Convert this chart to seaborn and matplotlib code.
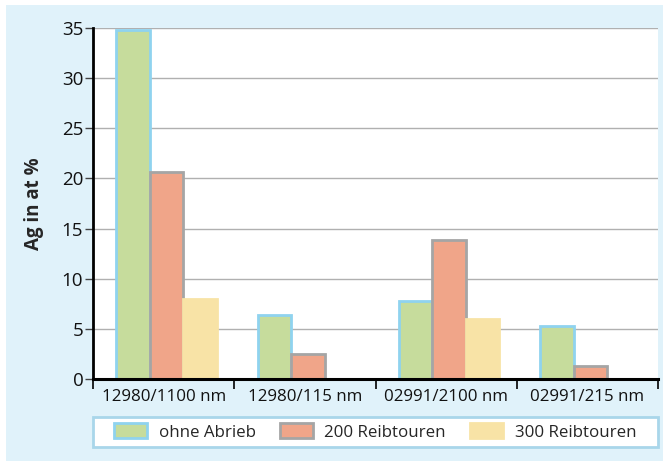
import matplotlib
matplotlib.use("Agg")
import matplotlib.pyplot as plt
import matplotlib.transforms as mtransforms
import seaborn as sns
import pandas as pd
from matplotlib.patches import Rectangle, Patch

categories = ["12980/1100 nm", "12980/115 nm", "02991/2100 nm", "02991/215 nm"]
series_names = ["ohne Abrieb", "200 Reibtouren", "300 Reibtouren"]
ohne_abrieb = [34.8, 6.4, 7.8, 5.3]
reib_200 = [20.6, 2.5, 13.9, 1.3]
reib_300 = [8.0, 0.0, 6.0, 0.0]
y_ticks = [0, 5, 10, 15, 20, 25, 30, 35]
y_label = "Ag in at %"

fill_colors = ["#c6dc9c", "#f0a589", "#f8e3a6"]
edge_colors = ["#8fd3ef", "#a5a5a5", "#f8e3a6"]
bg_blue = "#e0f2fa"

rows = []
for name, vals in zip(series_names, [ohne_abrieb, reib_200, reib_300]):
    for c, v in zip(categories, vals):
        rows.append({"Kategorie": c, "Serie": name, "Wert": v})
df = pd.DataFrame(rows)

sns.set_style("white")
plt.rcParams["font.family"] = ["Open Sans", "DejaVu Sans"]

W, H = 663, 461
fig = plt.figure(figsize=(W / 100, H / 100), dpi=100)
fig.patch.set_facecolor("white")
fig.patches.append(Rectangle((6 / W, 0), 1 - 6 / W, (H - 5) / H,
                             transform=fig.transFigure, facecolor=bg_blue,
                             edgecolor="none", zorder=-10))

ax = fig.add_axes([93 / W, (H - 379) / H, (658 - 93) / W, (379 - 28) / H])
ax.set_facecolor("white")

sns.barplot(data=df, x="Kategorie", y="Wert", hue="Serie", order=categories,
            hue_order=series_names, palette=fill_colors, width=0.71,
            saturation=1, ax=ax, legend=False, zorder=3)

shift = mtransforms.ScaledTranslation(3 / 100, 0, fig.dpi_scale_trans)
for cont, ec in zip(ax.containers, edge_colors):
    for bar in cont:
        bar.set_edgecolor(ec)
        bar.set_linewidth(2.0)
        bar.set_transform(ax.transData + shift)

ax.set_ylim(0, 35)
ax.set_xlim(-0.5, len(categories) - 0.5)
ax.set_yticks(y_ticks)
ax.yaxis.grid(True, color="#b0b0b0", linewidth=1.0, zorder=0)
ax.set_axisbelow(True)

for s in ["top", "right"]:
    ax.spines[s].set_visible(False)
ax.spines["left"].set_color("black")
ax.spines["left"].set_linewidth(2.0)
ax.spines["bottom"].set_color("black")
ax.spines["bottom"].set_linewidth(2.2)
ax.spines["left"].set_zorder(5)
ax.spines["bottom"].set_zorder(5)

ax.tick_params(axis="y", which="major", length=6, width=1, color="#444444",
               labelsize=13.5, pad=1, labelcolor="#111111", left=True)
ax.set_xticks(range(len(categories)))
ax.set_xticklabels(categories)
ax.tick_params(axis="x", which="major", length=0, labelsize=12.2, pad=7,
               labelcolor="#111111")
ax.set_xticks([i - 0.5 for i in range(len(categories) + 1)], minor=True)
ax.tick_params(axis="x", which="minor", length=7, width=1.2, color="black",
               bottom=True)

ax.set_xlabel("")
ax.set_ylabel(y_label, fontsize=13.5, fontweight="bold", labelpad=13)

# legend box
fig.patches.append(Rectangle((93 / W, (H - 447) / H), (658 - 93) / W, 30 / H,
                             transform=fig.transFigure, facecolor="white",
                             edgecolor="#a9d6ea", linewidth=2, zorder=1))
handles = [Patch(facecolor=f, edgecolor=e, linewidth=2)
           for f, e in zip(fill_colors, edge_colors)]
leg = fig.legend(handles, series_names, loc="center",
                 bbox_to_anchor=((112 + 638) / 2 / W, (H - 432) / H),
                 ncol=3, frameon=False, fontsize=12.2, handlelength=1.95,
                 handleheight=0.95, handletextpad=0.7, columnspacing=1.4)
leg.set_zorder(2)

fig.savefig("out.png", dpi=100, facecolor=fig.get_facecolor())
